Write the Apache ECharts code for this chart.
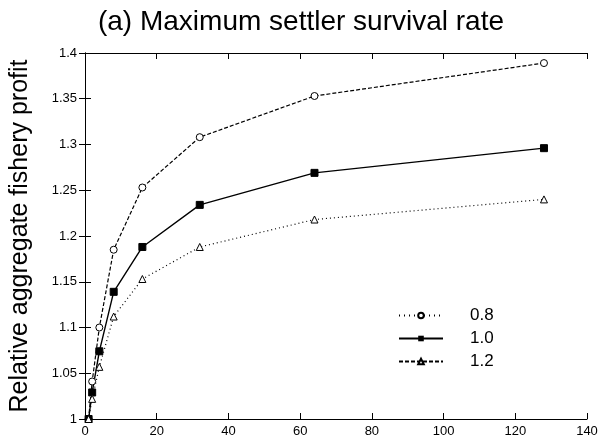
<!DOCTYPE html>
<html>
<head>
<meta charset="utf-8">
<script src="https://cdn.jsdelivr.net/npm/echarts@6/dist/echarts.min.js"></script>
<style>
  html, body { margin: 0; padding: 0; background: #fff; }
  #chart { width: 602px; height: 443px; }
</style>
</head>
<body>
<div id="chart"></div>
<script>
// patch sizes (x values)
var xs = [1, 2, 4, 8, 16, 32, 64, 128];
var names = ['0.8', '1.0', '1.2'];
var s08 = [1.0, 1.041, 1.100, 1.185, 1.253, 1.308, 1.353, 1.389];
var s10 = [1.0, 1.029, 1.074, 1.139, 1.188, 1.234, 1.269, 1.296];
var s12 = [1.0, 1.022, 1.057, 1.112, 1.153, 1.188, 1.218, 1.240];

function pairs(ys) {
	return xs.map(function(x, i) { return [x, ys[i]]; });
}

var font = 'Liberation Sans, Arial, Helvetica, sans-serif';
var chart = echarts.init(document.getElementById('chart'));

var option = {
	animation: false,
	title: {
		text: '(a) Maximum settler survival rate',
		left: 'center',
		top: 3,
		textStyle: { fontFamily: font, fontSize: 28, fontWeight: 'normal', color: '#000' }
	},
	grid: { left: 83, right: 15, top: 53, bottom: 24 },
	legend: {
		orient: 'vertical',
		left: 393,
		top: 302,
		itemWidth: 44,
		itemHeight: 7,
		itemGap: 6,
		textStyle: { fontFamily: font, fontSize: 17, color: '#000', padding: [0, 0, 0, 22] },
		data: [
			{ name: '0.8', lineStyle: { type: [1, 4] } },
			{ name: '1.0' },
			{ name: '1.2', lineStyle: { type: [4, 2] } }
		]
	},
	xAxis: [{
		type: 'value', min: 0, max: 140, interval: 20,
		axisLine: { lineStyle: { color: '#000', width: 1 } },
		axisTick: { inside: true, length: 6, lineStyle: { color: '#000' } },
		axisLabel: { fontFamily: font, fontSize: 13, color: '#000', margin: 6 },
		splitLine: { show: false }
	}, {
		type: 'value', min: 0, max: 140, interval: 20, position: 'top',
		axisLine: { lineStyle: { color: '#000', width: 1 } },
		axisTick: { inside: true, length: 6, lineStyle: { color: '#000' } },
		axisLabel: { show: false },
		splitLine: { show: false }
	}],
	yAxis: [{
		type: 'value', min: 1, max: 1.4, interval: 0.05,
		name: 'Relative aggregate fishery profit',
		nameLocation: 'middle',
		nameGap: 52,
		nameTextStyle: { fontFamily: font, fontSize: 25, color: '#000' },
		axisLine: { show: true, lineStyle: { color: '#000', width: 1 } },
		axisTick: { show: true, inside: true, length: 6, lineStyle: { color: '#000' } },
		axisLabel: { fontFamily: font, fontSize: 13, color: '#000', margin: 8 },
		splitLine: { show: false }
	}, {
		type: 'value', min: 1, max: 1.4, interval: 0.05, position: 'right',
		axisLine: { show: true, lineStyle: { color: '#000', width: 1 } },
		axisTick: { show: true, inside: true, length: 6, lineStyle: { color: '#000' } },
		axisLabel: { show: false },
		splitLine: { show: false }
	}],
	series: [{
		name: names[0],
		type: 'line',
		data: pairs(s08),
		symbol: 'circle',
		symbolSize: 7,
		itemStyle: { color: '#fff', borderColor: '#000', borderWidth: 1 },
		lineStyle: { color: '#000', width: 1.2, type: [4, 2] }
	}, {
		name: names[1],
		type: 'line',
		data: pairs(s10),
		symbol: 'rect',
		symbolSize: 7,
		itemStyle: { color: '#000', borderColor: '#000' },
		lineStyle: { color: '#000', width: 1.4, type: 'solid' }
	}, {
		name: names[2],
		type: 'line',
		data: pairs(s12),
		symbol: 'triangle',
		symbolSize: 7,
		itemStyle: { color: '#fff', borderColor: '#000', borderWidth: 1 },
		lineStyle: { color: '#000', width: 1.2, type: [1, 3] }
	}]
};

chart.setOption(option);
</script>
</body>
</html>
